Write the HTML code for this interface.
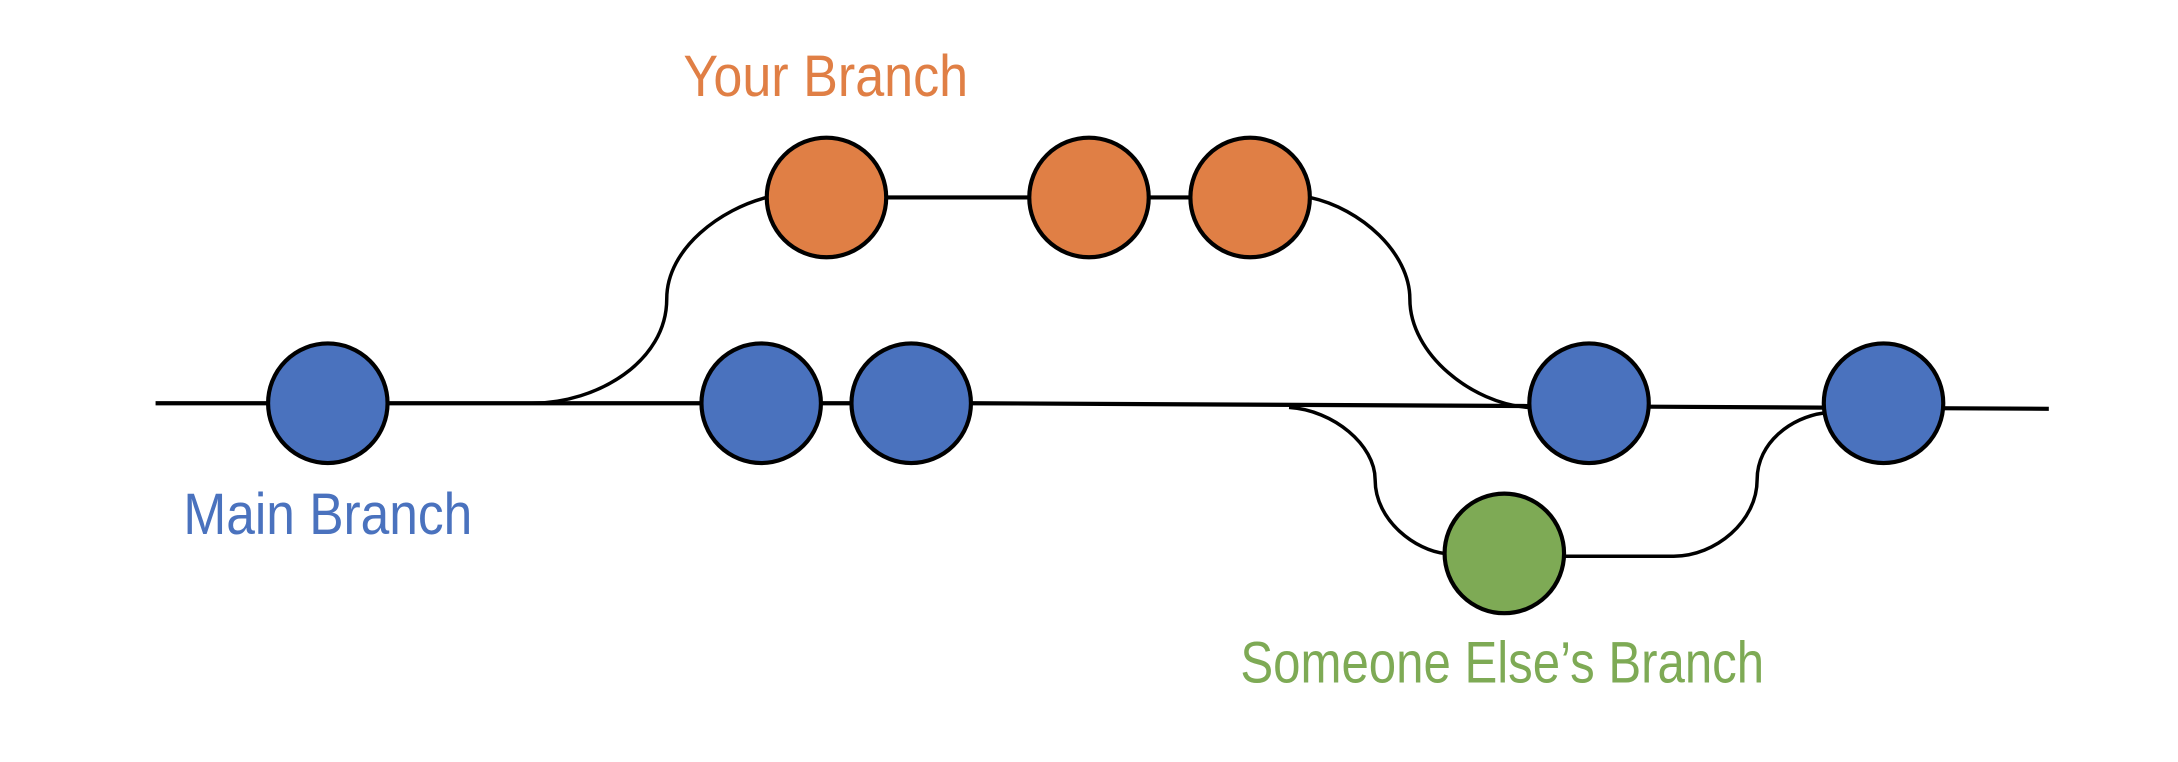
<!DOCTYPE html>
<html><head><meta charset="utf-8"><style>
html,body{margin:0;padding:0;background:#fff;}
svg{display:block;}
text{font-family:"Liberation Sans",sans-serif;font-size:42px;}
</style></head><body>
<svg width="2178" height="762" viewBox="0 0 1568 548" preserveAspectRatio="none" xmlns="http://www.w3.org/2000/svg">
<g fill="none" stroke="#000" stroke-width="3">
<path d="M112 290 L700 290 L1100 292 L1475 294" />
<path d="M383 290 C430 290 480 260 480 215 C480 178 520 150 552 142" stroke-width="2.5"/>
<path d="M595 142 L900 142"/>
<path d="M943 142 C980 150 1015 182 1015 215 C1015 255 1060 290 1100 293" stroke-width="2.5"/>
<path d="M928 293 C960 295 990 320 990 345 C990 375 1020 396 1040 398" stroke-width="2.5"/>
<path d="M1083 400 L1205 400 C1235 400 1265 375 1265 345 C1265 318 1290 300 1313 297" stroke-width="2.5"/>
</g>
<g stroke="#000" stroke-width="3">
<circle cx="236" cy="290" r="43" fill="#4A72BE"/>
<circle cx="548" cy="290" r="43" fill="#4A72BE"/>
<circle cx="656" cy="290" r="43" fill="#4A72BE"/>
<circle cx="1144" cy="290" r="43" fill="#4A72BE"/>
<circle cx="1356" cy="290" r="43" fill="#4A72BE"/>
<circle cx="595" cy="142" r="43" fill="#E07F45"/>
<circle cx="784" cy="142" r="43" fill="#E07F45"/>
<circle cx="900" cy="142" r="43" fill="#E07F45"/>
<circle cx="1083" cy="398" r="43" fill="#7EAA55"/>
</g>
<text x="492" y="69" fill="#E07F45" textLength="205" lengthAdjust="spacingAndGlyphs">Your Branch</text>
<text x="132" y="384" fill="#4A72BE" textLength="208" lengthAdjust="spacingAndGlyphs">Main Branch</text>
<text x="893" y="491" fill="#7EAA55" textLength="377" lengthAdjust="spacingAndGlyphs">Someone Else’s Branch</text>
</svg>
</body></html>
